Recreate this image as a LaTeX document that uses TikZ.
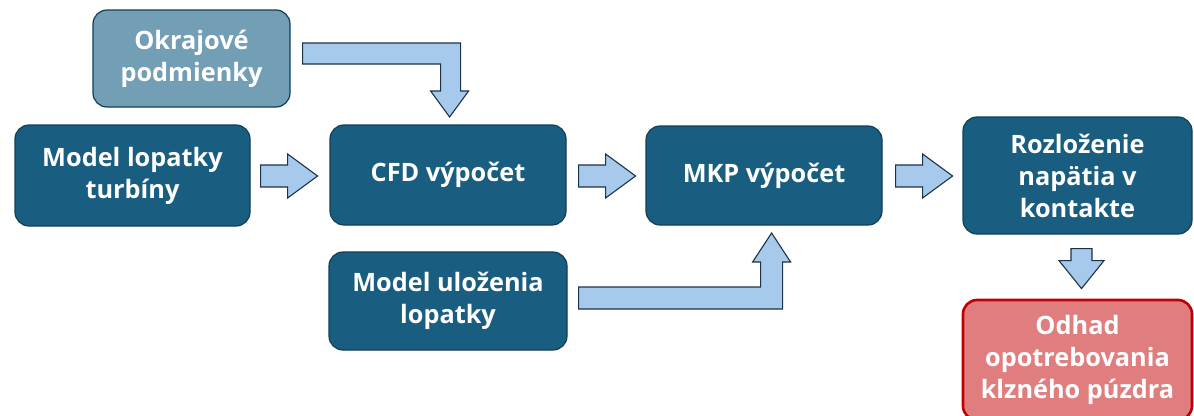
\documentclass[tikz,border=0pt]{standalone}
\usepackage{fontspec}
\setmainfont{Open Sans}
\usetikzlibrary{calc}
\definecolor{boxfill}{HTML}{195E81}
\definecolor{boxline}{HTML}{123F56}
\definecolor{lightfill}{HTML}{739FB6}
\definecolor{arrowfill}{HTML}{A7C9EB}
\definecolor{arrowline}{HTML}{1C3249}
\definecolor{redfill}{HTML}{E07E7F}
\definecolor{redline}{HTML}{C00000}
\tikzset{
  box/.style={draw=boxline, line width=1.2pt, fill=boxfill, rounded corners=14pt,
    text=white, font=\fontsize{25.3}{32}\selectfont\bfseries, align=center, inner sep=0pt},
  lightbox/.style={box, fill=lightfill},
  redbox/.style={box, fill=redfill, draw=redline, line width=2.6pt},
  barrow/.style={draw=arrowline, line width=1.1pt, fill=arrowfill, line join=miter},
  rarrow/.pic={\draw[barrow] (0,-11) -- (27,-11) -- (27,-22) -- (57,0) -- (27,22) -- (27,11) -- (0,11) -- cycle;},
  darrow/.pic={\draw[barrow] (-10.5,0) -- (10.5,0) -- (10.5,12) -- (22.5,12) -- (0,40) -- (-22.5,12) -- (-10.5,12) -- cycle;}
}
\begin{document}
\begin{tikzpicture}[x=1pt,y=-1pt]
\useasboundingbox (0,0) rectangle (1194,415);
\node[lightbox, minimum width=197, minimum height=97] (okr) at (191.5,58.5) {Okrajové\\podmienky};
\node[box, minimum width=235, minimum height=101] (mlt) at (132.5,175.5) {Model lopatky\\turbíny};
\node[box, minimum width=236, minimum height=100] (cfd) at (448,175) {CFD výpočet};
\node[box, minimum width=236, minimum height=99] (mkp) at (764,175.5) {MKP výpočet};
\node[box, minimum width=229, minimum height=117] (rnk) at (1077.5,175.5) {Rozloženie\\napätia v\\kontakte};
\node[box, minimum width=238, minimum height=98] (mul) at (448,301) {Model uloženia\\lopatky};
\node[redbox, minimum width=229, minimum height=120] (odh) at (1077.5,360) {Odhad\\opotrebovania\\klzného púzdra};
% straight block arrows
\pic at ($(mlt.east)+(10,0.5)$) {rarrow};
\pic at ($(cfd.east)+(12,1)$) {rarrow};
\pic at ($(mkp.east)+(13,0.5)$) {rarrow};
\pic at ($(rnk.south)+(4,14)$) {darrow};
% bent block arrows
\draw[barrow] ($(okr.east)+(12,-15.5)$) -- ++(158,0) -- ++(0,48) -- ++(8,0) -- ++(-19,26)
  -- ++(-19,-26) -- ++(10,0) -- ++(0,-27) -- ++(-138,0) -- cycle;
\draw[barrow] ($(mul.east)+(11,-14)$) -- ++(182,0) -- ++(0,-25) -- ++(-8,0) -- ++(19,-29)
  -- ++(19,29) -- ++(-8,0) -- ++(0,47) -- ++(-204,0) -- cycle;
\end{tikzpicture}
\end{document}
